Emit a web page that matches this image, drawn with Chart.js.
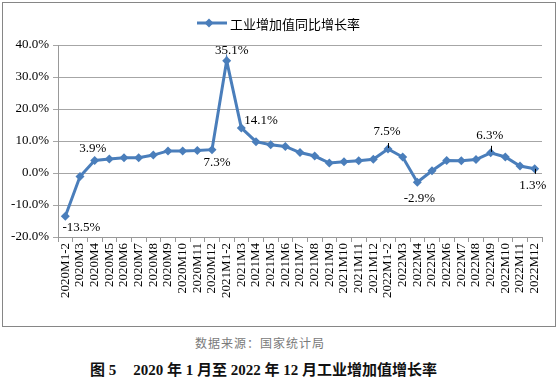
<!DOCTYPE html>
<html>
<head>
<meta charset="utf-8">
<script src="https://cdn.jsdelivr.net/npm/chart.js@4"></script>
<style>
  html, body { margin: 0; padding: 0; background: #fff; width: 559px; height: 379px; overflow: hidden; }
  #box { position: absolute; left: 2px; top: 2px; width: 552px; height: 323px; border: 1px solid #868686; }
  #box canvas { position: absolute; left: 0; top: 0; }
  #source { position: absolute; left: 195px; top: 335px; font: 12px "Noto Sans CJK SC", sans-serif; color: #7a7a7a; letter-spacing: 1px; white-space: nowrap; line-height: 16px; }
  #caption { position: absolute; left: 90px; top: 360px; font: bold 15px "Liberation Serif", "Noto Sans CJK SC", serif; color: #111; white-space: nowrap; line-height: 20px; }
</style>
</head>
<body>
<div id="box"><canvas id="c" width="552" height="323"></canvas></div>
<div id="source">数据来源：国家统计局</div>
<div id="caption">图 5<span style="display:inline-block;width:17px"></span>2020 年 1 月至 2022 年 12 月工业增加值增长率</div>
<script>
const seriesName = '工业增加值同比增长率';
const categories = [
  '2020M1-2','2020M3','2020M4','2020M5','2020M6','2020M7','2020M8','2020M9','2020M10','2020M11','2020M12',
  '2021M1-2','2021M3','2021M4','2021M5','2021M6','2021M7','2021M8','2021M9','2021M10','2021M11','2021M12',
  '2022M1-2','2022M3','2022M4','2022M5','2022M6','2022M7','2022M8','2022M9','2022M10','2022M11','2022M12'
];
const growthValues = [
  -13.5, -1.1, 3.9, 4.4, 4.8, 4.8, 5.6, 6.9, 6.9, 7.0, 7.3,
  35.1, 14.1, 9.8, 8.8, 8.3, 6.4, 5.3, 3.1, 3.5, 3.8, 4.3,
  7.5, 5.0, -2.9, 0.7, 3.9, 3.8, 4.2, 6.3, 5.0, 2.2, 1.3
];
const labeledCategories = ['2020M1-2','2020M4','2020M12','2021M1-2','2021M3','2022M1-2','2022M4','2022M9','2022M12'];
const yTicks = [-20, -10, 0, 10, 20, 30, 40];

const LINE_COLOR = '#4a7ebb';
// label placement: dx, dy (text center offset from point), align, leader line
const labelStyle = {
  '2020M1-2': {dx: 16, dy: 11, align: 'center'},
  '2020M4':   {dx: -2, dy: -12, align: 'center'},
  '2020M12':  {dx: 5, dy: 13, align: 'center'},
  '2021M1-2': {dx: 5, dy: -10, align: 'center'},
  '2021M3':   {dx: 3, dy: -7, align: 'left'},
  '2022M1-2': {dx: -1, dy: -17, align: 'center', leader: [-6, -1]},
  '2022M4':   {dx: 2, dy: 16, align: 'center'},
  '2022M9':   {dx: -1, dy: -17, align: 'center', leader: [-7, -1]},
  '2022M12':  {dx: -2, dy: 17, align: 'center', leader: [0, 5]}
};

const dataLabels = {
  id: 'dataLabels',
  afterDatasetsDraw(chart) {
    const ctx = chart.ctx;
    const meta = chart.getDatasetMeta(0);
    ctx.save();
    ctx.font = '13px "Liberation Serif", serif';
    ctx.fillStyle = '#000';
    ctx.textBaseline = 'middle';
    labeledCategories.forEach(cat => {
      const i = categories.indexOf(cat);
      const p = meta.data[i];
      const s = labelStyle[cat];
      if (s.leader) {
        ctx.strokeStyle = '#000';
        ctx.lineWidth = 1;
        ctx.beginPath();
        ctx.moveTo(Math.round(p.x) + 0.5, p.y + s.leader[0]);
        ctx.lineTo(Math.round(p.x) + 0.5, p.y + s.leader[1]);
        ctx.stroke();
      }
      ctx.textAlign = s.align;
      ctx.fillText(growthValues[i].toFixed(1) + '%', p.x + s.dx, p.y + s.dy);
    });
    ctx.restore();
  }
};

const customLegend = {
  id: 'customLegend',
  afterDraw(chart) {
    const ctx = chart.ctx;
    const x0 = 194, y0 = 20;
    ctx.save();
    ctx.strokeStyle = LINE_COLOR;
    ctx.fillStyle = LINE_COLOR;
    ctx.lineWidth = 3;
    ctx.beginPath();
    ctx.moveTo(x0, y0);
    ctx.lineTo(x0 + 30, y0);
    ctx.stroke();
    ctx.beginPath();
    const cx = x0 + 12, r = 4.5;
    ctx.moveTo(cx, y0 - r); ctx.lineTo(cx + r, y0); ctx.lineTo(cx, y0 + r); ctx.lineTo(cx - r, y0);
    ctx.closePath(); ctx.fill();
    ctx.fillStyle = '#000';
    ctx.font = '13px "Noto Sans CJK SC", sans-serif';
    ctx.textBaseline = 'middle';
    ctx.textAlign = 'left';
    ctx.fillText(chart.data.datasets[0].label, x0 + 33, y0 + 1);
    ctx.restore();
  }
};

new Chart(document.getElementById('c'), {
  type: 'line',
  data: {
    labels: categories,
    datasets: [{
      label: seriesName,
      data: growthValues,
      borderColor: LINE_COLOR,
      backgroundColor: LINE_COLOR,
      borderWidth: 3,
      pointStyle: 'rectRot',
      pointRadius: 4.5,
      pointBackgroundColor: LINE_COLOR,
      pointBorderColor: LINE_COLOR,
      pointBorderWidth: 0,
      tension: 0
    }]
  },
  options: {
    responsive: false,
    animation: false,
    layout: { padding: { top: 42, right: 13, left: 0, bottom: 0 } },
    plugins: { legend: { display: false }, tooltip: { enabled: false } },
    scales: {
      x: {
        offset: true,
        grid: { offset: true, drawOnChartArea: false, drawTicks: true, tickLength: 5, color: '#999' },
        border: { color: '#999', width: 1 },
        ticks: { autoSkip: false, maxRotation: 90, minRotation: 90, padding: 1, color: '#000',
                 font: { family: '"Liberation Serif", serif', size: 13 } },
        afterFit(scale) { scale.height = 89; }
      },
      y: {
        min: -20, max: 40,
        afterBuildTicks(scale) { scale.ticks = yTicks.map(v => ({ value: v })); },
        grid: { color: '#a6a6a6', tickLength: 5, drawTicks: true },
        border: { color: '#999', width: 1 },
        ticks: { padding: 4, color: '#000', font: { family: '"Liberation Serif", serif', size: 13 },
                 callback: v => v.toFixed(1) + '%' },
        afterFit(scale) { scale.width = 55; }
      }
    }
  },
  plugins: [dataLabels, customLegend]
});
</script>
</body>
</html>
